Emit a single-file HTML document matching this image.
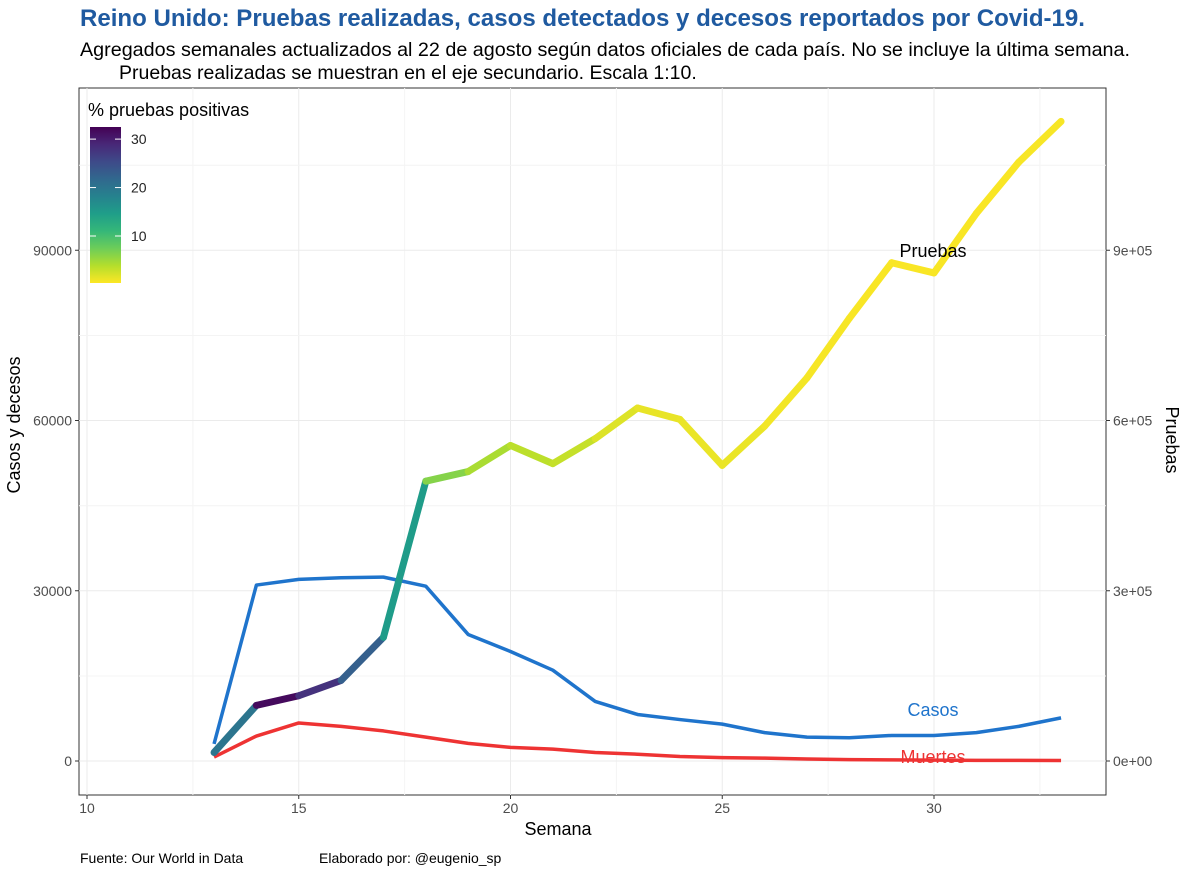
<!DOCTYPE html>
<html><head><meta charset="utf-8"><style>
body{margin:0;background:#fff;font-family:"Liberation Sans",sans-serif;}
svg text{font-family:"Liberation Sans",sans-serif;}
</style></head><body>
<svg id="chart" width="1200" height="871" xmlns="http://www.w3.org/2000/svg">
<text x="80" y="26" font-size="24" font-weight="bold" fill="#1f5aa0" textLength="1005" lengthAdjust="spacingAndGlyphs">Reino Unido: Pruebas realizadas, casos detectados y decesos reportados por Covid-19.</text>
<text x="80" y="56" font-size="19.5" fill="#000" textLength="1050" lengthAdjust="spacingAndGlyphs">Agregados semanales actualizados al 22 de agosto según datos oficiales de cada país. No se incluye la última semana.</text>
<text x="119" y="79" font-size="19.5" fill="#000">Pruebas realizadas se muestran en el eje secundario. Escala 1:10.</text>
<rect x="79" y="88" width="1027" height="707" fill="#fff" stroke="#333" stroke-width="1"/>
<g id="grid"></g><g id="series"></g><g id="axes"></g><g id="legend"></g>
<text x="558" y="835" font-size="18" text-anchor="middle">Semana</text>
<text transform="translate(20,425) rotate(-90)" font-size="18" text-anchor="middle">Casos y decesos</text>
<text transform="translate(1166,440) rotate(90)" font-size="18" text-anchor="middle">Pruebas</text>
<text x="80" y="863" font-size="14">Fuente: Our World in Data</text>
<text x="319" y="863" font-size="14">Elaborado por: @eugenio_sp</text>
</svg>
<script>
const weeks=[13,14,15,16,17,18,19,20,21,22,23,24,25,26,27,28,29,30,31,32,33];
const casos=[3000,31000,32000,32300,32400,30800,22300,19300,16000,10500,8200,7300,6500,5000,4200,4100,4500,4500,5000,6100,7600];
const muertes=[700,4400,6700,6100,5300,4200,3100,2400,2100,1500,1200,800,600,500,350,250,200,150,120,100,80];
const pruebas=[15000,98000,115000,142000,218000,493000,510000,556000,524000,568000,622000,602000,521000,590000,675000,780000,878000,860000,965000,1055000,1127000];
const xTicks=[10,15,20,25,30];
const yTicks=[0,30000,60000,90000];
const y2Labels=["0e+00","3e+05","6e+05","9e+05"];
const xs=w=>87+(w-10)*42.35;
const ys=v=>761-v*0.005675;
const ns="http://www.w3.org/2000/svg";
function mk(t,a,p){const e=document.createElementNS(ns,t);for(const k in a)e.setAttribute(k,a[k]);p.appendChild(e);return e;}
const grid=document.getElementById('grid'),axes=document.getElementById('axes'),ser=document.getElementById('series'),leg=document.getElementById('legend');
for(let i=0;i<xTicks.length;i++){const x=xs(xTicks[i]);
 const g=mk('line',{x1:x,x2:x,y1:88,y2:795,stroke:'#ebebeb'},grid);
 const g2=mk('line',{x1:x+105.9,x2:x+105.9,y1:88,y2:795,stroke:'#f4f4f4'},grid);
 mk('line',{x1:x,x2:x,y1:795,y2:799,stroke:'#333'},axes);
 const t=mk('text',{x:x,y:813,'font-size':14,'text-anchor':'middle',fill:'#4d4d4d'},axes);t.textContent=xTicks[i];
 }
for(let i=0;i<yTicks.length;i++){const y=ys(yTicks[i]);
 const g=mk('line',{x1:79,x2:1106,y1:y,y2:y,stroke:'#ebebeb'},grid);
 const g2=mk('line',{x1:79,x2:1106,y1:y-85,y2:y-85,stroke:'#f4f4f4'},grid);
 mk('line',{x1:75,x2:79,y1:y,y2:y,stroke:'#333'},axes);mk('line',{x1:1106,x2:1110,y1:y,y2:y,stroke:'#333'},axes);
 const t=mk('text',{x:72,y:y+5,'font-size':14,'text-anchor':'end',fill:'#4d4d4d'},axes);t.textContent=yTicks[i];
 
 const t2=mk('text',{x:1113,y:y+5,'font-size':14,fill:'#4d4d4d'},axes);t2.textContent=y2Labels[i];
 }
const V=[[68,1,84],[72,40,120],[62,74,137],[49,104,142],[38,130,142],[31,158,137],[53,183,121],[109,205,89],[180,222,44],[253,231,37]];
const lo=0.3,hi=32.5;
function vir(p){let t=Math.max(0,Math.min(1,(hi-p)/(hi-lo)))*(V.length-1);const i=Math.min(V.length-2,Math.floor(t)),f=t-i;
 const c=V[i].map((v,k)=>Math.round(v+(V[i+1][k]-v)*f));return `rgb(${c})`;}
function poly(arr,col,w,name){const p=mk('polyline',{points:weeks.map((wk,i)=>xs(wk)+','+ys(arr[i])).join(' '),fill:'none',stroke:col,'stroke-width':w,'stroke-linejoin':'round'},ser);
 }
poly(casos,'#1f74cc',3.5,'casos-line');
poly(muertes,'#ee3333',3.5,'muertes-line');
for(let i=0;i<weeks.length-1;i++){const pct=casos[i]/pruebas[i]*100;
 const s=mk('line',{x1:xs(weeks[i]),y1:ys(pruebas[i]/10),x2:xs(weeks[i+1]),y2:ys(pruebas[i+1]/10),stroke:vir(pct),'stroke-width':7,'stroke-linecap':'round'},ser);
 }
function lab(txt,x,y,c,name){const t=mk('text',{x:x,y:y,'font-size':18,'text-anchor':'middle',fill:c},ser);t.textContent=txt;}
lab('Pruebas',933,257,'#000','pruebas-label');lab('Casos',933,716,'#1f74cc','casos-label');lab('Muertes',933,763,'#ee3333','muertes-label');
const lt=mk('text',{x:88,y:116,'font-size':18},leg);lt.textContent='% pruebas positivas';
const defs=mk('defs',{},leg);const gr=mk('linearGradient',{id:'vg',x1:0,y1:0,x2:0,y2:1},defs);
V.forEach((c,i)=>mk('stop',{offset:i/(V.length-1),'stop-color':`rgb(${c})`},gr));
const cb=mk('rect',{x:90,y:127,width:31,height:156,fill:'url(#vg)'},leg);
const cbTicks=[10,20,30];
cbTicks.forEach(v=>{const y=283-(v-lo)/(hi-lo)*156;mk('line',{x1:90,x2:96,y1:y,y2:y,stroke:'#fff'},leg);mk('line',{x1:115,x2:121,y1:y,y2:y,stroke:'#fff'},leg);
 const t=mk('text',{x:131,y:y+5,'font-size':14,fill:'#222'},leg);t.textContent=v;});
</script>
</body></html>
